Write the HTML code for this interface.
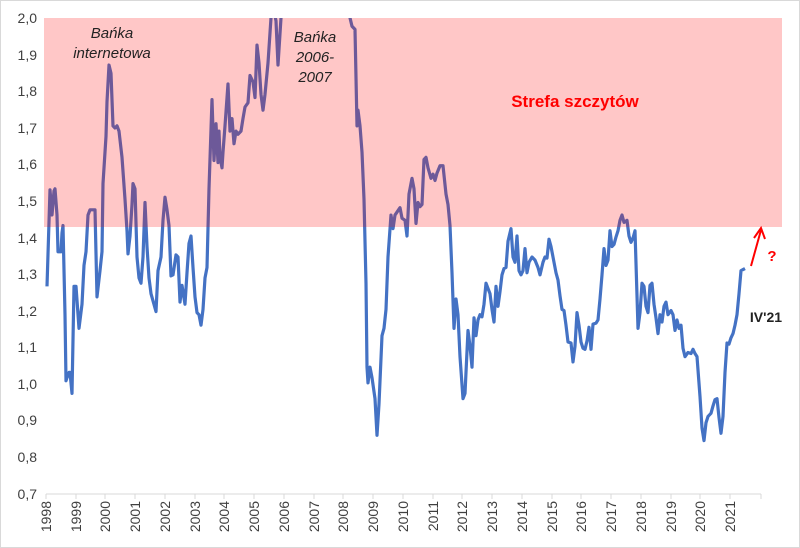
<!DOCTYPE html>
<html><head><meta charset="utf-8"><style>
html,body{margin:0;padding:0;background:#fff}
svg{display:block}
text{font-family:"Liberation Sans",sans-serif}
</style></head><body>
<svg width="800" height="548" viewBox="0 0 800 548" xmlns="http://www.w3.org/2000/svg">
<rect x="0.5" y="0.5" width="799" height="547" fill="#fff" stroke="#d9d9d9"/>
<defs><clipPath id="c"><rect x="40" y="18" width="750" height="476"/></clipPath></defs>
<g font-size="14" fill="#404040" text-anchor="end">
<text x="37" y="23">2,0</text><text x="37" y="60">1,9</text><text x="37" y="96">1,8</text><text x="37" y="133">1,7</text><text x="37" y="169">1,6</text><text x="37" y="206">1,5</text><text x="37" y="243">1,4</text><text x="37" y="279">1,3</text><text x="37" y="316">1,2</text><text x="37" y="352">1,1</text><text x="37" y="389">1,0</text><text x="37" y="425">0,9</text><text x="37" y="462">0,8</text><text x="37" y="499">0,7</text>
</g>
<line x1="46" y1="494" x2="761" y2="494" stroke="#d9d9d9" stroke-width="1"/>
<g stroke="#d9d9d9">
<line x1="46" y1="494" x2="46" y2="499"/><line x1="76" y1="494" x2="76" y2="499"/><line x1="105" y1="494" x2="105" y2="499"/><line x1="135" y1="494" x2="135" y2="499"/><line x1="165" y1="494" x2="165" y2="499"/><line x1="195" y1="494" x2="195" y2="499"/><line x1="224" y1="494" x2="224" y2="499"/><line x1="254" y1="494" x2="254" y2="499"/><line x1="284" y1="494" x2="284" y2="499"/><line x1="314" y1="494" x2="314" y2="499"/><line x1="343" y1="494" x2="343" y2="499"/><line x1="373" y1="494" x2="373" y2="499"/><line x1="403" y1="494" x2="403" y2="499"/><line x1="433" y1="494" x2="433" y2="499"/><line x1="462" y1="494" x2="462" y2="499"/><line x1="492" y1="494" x2="492" y2="499"/><line x1="522" y1="494" x2="522" y2="499"/><line x1="552" y1="494" x2="552" y2="499"/><line x1="581" y1="494" x2="581" y2="499"/><line x1="611" y1="494" x2="611" y2="499"/><line x1="641" y1="494" x2="641" y2="499"/><line x1="671" y1="494" x2="671" y2="499"/><line x1="700" y1="494" x2="700" y2="499"/><line x1="730" y1="494" x2="730" y2="499"/><line x1="761" y1="494" x2="761" y2="499"/>
</g>
<g font-size="14" fill="#404040" text-anchor="end">
<text transform="translate(51,501) rotate(-90)">1998</text><text transform="translate(81,501) rotate(-90)">1999</text><text transform="translate(110,501) rotate(-90)">2000</text><text transform="translate(140,501) rotate(-90)">2001</text><text transform="translate(170,501) rotate(-90)">2002</text><text transform="translate(200,501) rotate(-90)">2003</text><text transform="translate(229,501) rotate(-90)">2004</text><text transform="translate(259,501) rotate(-90)">2005</text><text transform="translate(289,501) rotate(-90)">2006</text><text transform="translate(319,501) rotate(-90)">2007</text><text transform="translate(348,501) rotate(-90)">2008</text><text transform="translate(378,501) rotate(-90)">2009</text><text transform="translate(408,501) rotate(-90)">2010</text><text transform="translate(438,501) rotate(-90)">2011</text><text transform="translate(467,501) rotate(-90)">2012</text><text transform="translate(497,501) rotate(-90)">2013</text><text transform="translate(527,501) rotate(-90)">2014</text><text transform="translate(557,501) rotate(-90)">2015</text><text transform="translate(586,501) rotate(-90)">2016</text><text transform="translate(616,501) rotate(-90)">2017</text><text transform="translate(646,501) rotate(-90)">2018</text><text transform="translate(676,501) rotate(-90)">2019</text><text transform="translate(705,501) rotate(-90)">2020</text><text transform="translate(735,501) rotate(-90)">2021</text>
</g>
<g clip-path="url(#c)">
<g transform="scale(1,1.049)">
<polyline fill="none" stroke="#4472C4" stroke-width="3.2" vector-effect="non-scaling-stroke" stroke-linejoin="round" points="47,273 50,181 52,205 54,182 55,180 57,205 58,240 61,240 62,222 63,215 65,300 66,363 67,360 69,355 70,355 72,375 74,273 76,273 79,313 82,290 84,253 86,240 88,205 90,200 92,200 95,200 97,283 100,258 102,240 103,175 106,130 107,97 109,62 111,70 113,120 115,122 117,120 119,125 122,150 125,190 127,220 128,242 130,225 132,195 133,175 135,180 137,245 139,265 141,270 143,245 145,193 147,235 149,265 151,280 156,297 158,258 161,245 163,210 165,188 167,200 169,215 171,263 173,262 176,243 178,245 180,288 182,272 185,290 187,260 189,232 191,225 193,255 195,283 197,298 199,300 201,310 203,295 205,265 207,255 209,180 212,95 214,153 216,118 218,155 219,125 220,150 222,160 223,145 225,120 228,80 230,125 232,113 234,137 236,125 238,128 241,125 243,113 245,102 248,98 250,72 253,78 255,93 257,43 259,60 261,90 263,105 265,90 268,60 271,17 273,5 276,20 278,62 281,17 283,0 300,-30 340,-20 350,17 352,25 355,28 357,120 358,105 360,120 362,145 364,190 366,270 367,350 368,365 370,350 372,360 375,380 377,415 379,385 382,320 384,313 386,295 388,245 391,205 393,218 395,205 400,198 402,208 405,210 407,225 409,185 412,170 414,180 416,213 418,193 420,197 422,195 424,152 426,150 428,160 431,170 433,166 435,172 437,165 440,158 443,158 446,185 448,195 450,215 452,260 454,313 456,285 458,300 460,340 463,380 465,375 468,315 470,330 472,350 474,303 476,320 478,305 480,300 482,302 484,290 486,270 488,275 490,280 492,295 494,307 496,273 498,292 500,278 502,262 504,256 506,255 508,230 511,218 513,245 515,250 517,225 519,258 521,262 523,258 525,237 527,260 529,250 532,245 535,248 538,255 540,262 543,250 545,245 547,246 549,228 551,235 553,245 556,260 558,267 560,282 562,295 564,296 566,310 568,326 571,327 573,345 575,330 577,298 579,310 581,326 583,332 585,333 587,325 589,312 591,333 593,309 596,308 598,305 600,285 602,262 604,237 606,253 608,248 610,220 612,235 614,233 616,226 618,220 620,210 622,205 624,212 627,210 629,225 631,231 633,227 635,220 638,313 640,298 642,270 644,273 646,292 648,298 650,272 652,270 654,290 656,303 658,318 660,300 662,307 664,292 666,288 668,300 671,296 673,300 675,315 677,305 679,313 681,310 683,332 685,340 688,336 691,337 693,333 695,337 697,340 700,378 702,408 704,420 706,403 708,397 711,394 713,387 715,381 717,380 719,398 721,413 723,397 725,355 727,327 729,328 731,322 733,318 735,310 737,300 739,280 741,258 743,257 745,256"/>
</g>
</g>
<rect x="44" y="18" width="738" height="209" fill="rgb(255,0,0)" fill-opacity="0.22"/>
<g font-size="15" font-style="italic" fill="#222" text-anchor="middle">
<text x="112" y="38">Bańka</text><text x="112" y="58">internetowa</text>
<text x="315" y="42">Bańka</text><text x="315" y="62">2006-</text><text x="315" y="82">2007</text>
</g>
<text x="575" y="107" font-size="17" font-weight="bold" fill="#ff0000" text-anchor="middle">Strefa szczytów</text>
<line x1="751" y1="266" x2="761" y2="230" stroke="#ff0000" stroke-width="2"/>
<polyline points="754,238 761,228 765,239" fill="none" stroke="#ff0000" stroke-width="2"/>
<text x="772" y="261" font-size="15" font-weight="bold" fill="#ff0000" text-anchor="middle">?</text>
<text x="766" y="322" font-size="14" font-weight="bold" fill="#222" text-anchor="middle">IV'21</text>
</svg>
</body></html>
